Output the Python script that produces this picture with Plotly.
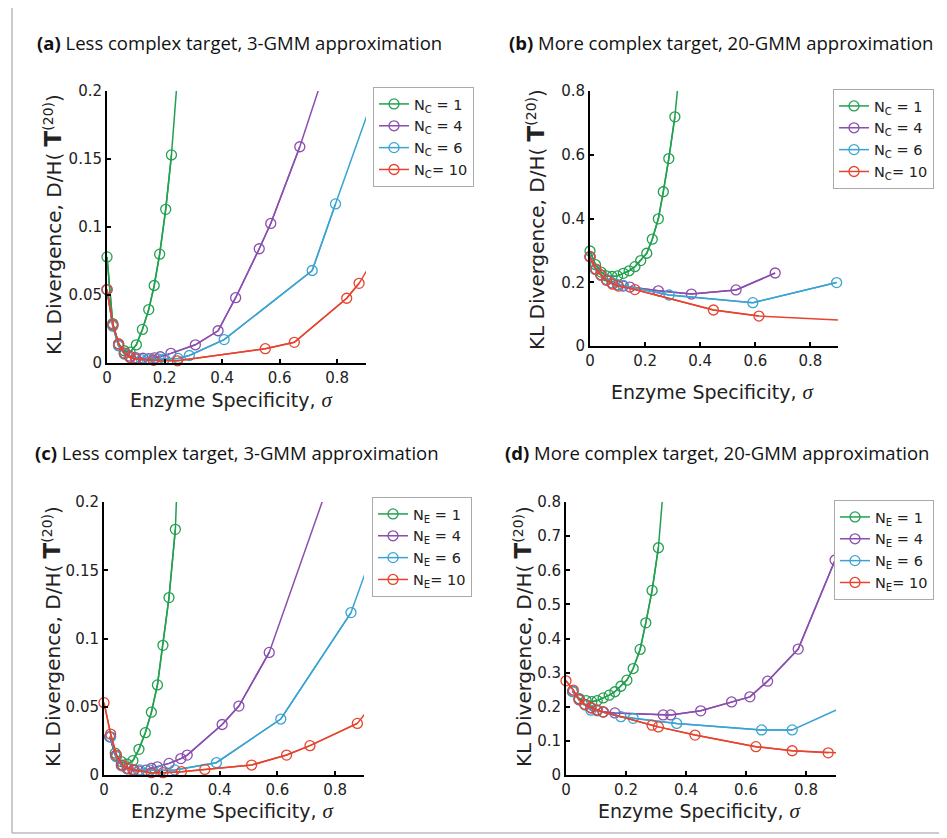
import plotly.graph_objects as go

# ---------------- data ----------------
# panel (a)  N_C, less complex target, 3-GMM
a_green_x = [0, 0.02, 0.04, 0.06, 0.08, 0.102, 0.123, 0.145, 0.164, 0.183, 0.204, 0.224, 0.245]
a_green_y = [0.078, 0.029, 0.014, 0.009, 0.008, 0.0134, 0.0247, 0.0393, 0.057, 0.080, 0.113, 0.153, 0.211]
a_purple_x = [0, 0.02, 0.04, 0.06, 0.08, 0.10, 0.125, 0.145, 0.165, 0.185, 0.222, 0.307, 0.386, 0.447, 0.529, 0.569, 0.670, 0.76]
a_purple_y = [0.054, 0.028, 0.013, 0.007, 0.005, 0.004, 0.0035, 0.0032, 0.0038, 0.0046, 0.0071, 0.0134, 0.0237, 0.048, 0.084, 0.1026, 0.159, 0.217]
a_blue_x = [0, 0.02, 0.04, 0.06, 0.08, 0.10, 0.12, 0.14, 0.16, 0.18, 0.20, 0.247, 0.286, 0.407, 0.713, 0.794, 0.95]
a_blue_y = [0.054, 0.027, 0.0127, 0.0066, 0.004, 0.003, 0.0025, 0.0025, 0.0025, 0.0028, 0.003, 0.0034, 0.0055, 0.0172, 0.068, 0.117, 0.21]
a_red_x = [0, 0.021, 0.041, 0.061, 0.081, 0.10, 0.162, 0.245, 0.55, 0.651, 0.833, 0.876, 0.95]
a_red_y = [0.054, 0.028, 0.014, 0.0073, 0.004, 0.003, 0.002, 0.0016, 0.0105, 0.0152, 0.0476, 0.0586, 0.0845]

# panel (b)  N_C, more complex target, 20-GMM
b_green_x = [0, 0.02, 0.04, 0.06, 0.08, 0.10, 0.121, 0.142, 0.163, 0.184, 0.206, 0.226, 0.248, 0.266, 0.286, 0.308, 0.33]
b_green_y = [0.298, 0.255, 0.232, 0.22, 0.218, 0.22, 0.228, 0.236, 0.249, 0.268, 0.291, 0.335, 0.399, 0.484, 0.588, 0.719, 0.917]
b_purple_x = [0, 0.02, 0.04, 0.06, 0.08, 0.10, 0.12, 0.145, 0.248, 0.368, 0.53, 0.672]
b_purple_y = [0.28, 0.24, 0.222, 0.208, 0.198, 0.192, 0.188, 0.185, 0.173, 0.163, 0.176, 0.229]
b_blue_x = [0, 0.02, 0.04, 0.06, 0.08, 0.10, 0.121, 0.287, 0.591, 0.895]
b_blue_y = [0.28, 0.24, 0.222, 0.208, 0.198, 0.192, 0.19, 0.16, 0.136, 0.199]
b_red_x = [0, 0.022, 0.039, 0.06, 0.082, 0.103, 0.163, 0.448, 0.613, 0.95]
b_red_y = [0.28, 0.241, 0.224, 0.206, 0.194, 0.188, 0.177, 0.113, 0.094, 0.079]

# panel (c)  N_E, less complex target, 3-GMM
c_green_x = [0.02, 0.039, 0.06, 0.08, 0.10, 0.121, 0.143, 0.164, 0.185, 0.204, 0.225, 0.247, 0.268]
c_green_y = [0.028, 0.016, 0.0098, 0.008, 0.0105, 0.0188, 0.031, 0.046, 0.066, 0.095, 0.13, 0.18, 0.30]
c_purple_x = [0.02, 0.04, 0.06, 0.08, 0.10, 0.12, 0.145, 0.164, 0.185, 0.225, 0.266, 0.288, 0.409, 0.467, 0.572, 0.78]
c_purple_y = [0.028, 0.014, 0.007, 0.0045, 0.0035, 0.003, 0.0035, 0.0049, 0.006, 0.0085, 0.012, 0.0146, 0.037, 0.0505, 0.0898, 0.215]
c_blue_x = [0.023, 0.043, 0.064, 0.083, 0.104, 0.124, 0.16, 0.20, 0.245, 0.389, 0.612, 0.855, 0.95]
c_blue_y = [0.028, 0.0134, 0.0066, 0.0045, 0.004, 0.0037, 0.0035, 0.0035, 0.0037, 0.009, 0.041, 0.119, 0.175]
c_red_x = [0, 0.023, 0.043, 0.064, 0.083, 0.104, 0.164, 0.204, 0.268, 0.349, 0.511, 0.632, 0.713, 0.877, 0.95]
c_red_y = [0.053, 0.030, 0.0146, 0.0073, 0.0049, 0.0037, 0.0017, 0.0017, 0.0024, 0.0041, 0.0073, 0.0146, 0.0215, 0.0378, 0.0575]

# panel (d)  N_E, more complex target, 20-GMM
d_green_x = [0.022, 0.044, 0.067, 0.086, 0.104, 0.124, 0.144, 0.163, 0.183, 0.203, 0.224, 0.247, 0.266, 0.287, 0.308, 0.33]
d_green_y = [0.245, 0.224, 0.218, 0.215, 0.218, 0.226, 0.234, 0.244, 0.26, 0.278, 0.312, 0.368, 0.446, 0.541, 0.666, 0.90]
d_purple_x = [0.022, 0.044, 0.063, 0.083, 0.104, 0.124, 0.163, 0.324, 0.349, 0.449, 0.552, 0.613, 0.672, 0.774, 0.897]
d_purple_y = [0.245, 0.222, 0.207, 0.197, 0.19, 0.185, 0.182, 0.176, 0.176, 0.188, 0.214, 0.229, 0.275, 0.369, 0.630]
d_blue_x = [0.024, 0.044, 0.063, 0.083, 0.104, 0.124, 0.183, 0.224, 0.369, 0.652, 0.754, 0.95]
d_blue_y = [0.244, 0.22, 0.205, 0.19, 0.188, 0.184, 0.171, 0.166, 0.151, 0.132, 0.132, 0.21]
d_red_x = [0, 0.024, 0.043, 0.063, 0.083, 0.104, 0.124, 0.287, 0.308, 0.43, 0.633, 0.754, 0.874, 0.99]
d_red_y = [0.276, 0.249, 0.221, 0.207, 0.197, 0.19, 0.185, 0.146, 0.141, 0.117, 0.083, 0.071, 0.065, 0.062]

legend_c = ["N<sub>C</sub> = 1", "N<sub>C</sub> = 4", "N<sub>C</sub> = 6", "N<sub>C</sub>= 10"]
legend_e = ["N<sub>E</sub> = 1", "N<sub>E</sub> = 4", "N<sub>E</sub> = 6", "N<sub>E</sub>= 10"]
titles = [
    "<b>(a)</b> Less complex target, 3-GMM approximation",
    "<b>(b)</b> More complex target, 20-GMM approximation",
    "<b>(c)</b> Less complex target, 3-GMM approximation",
    "<b>(d)</b> More complex target, 20-GMM approximation",
]
x_ticks = [0, 0.2, 0.4, 0.6, 0.8]
x_ticklabels = ["0", "0.2", "0.4", "0.6", "0.8"]
y_ticks_a = [0, 0.05, 0.1, 0.15, 0.2]
y_ticklabels_a = ["0", "0.05", "0.1", "0.15", "0.2"]
y_ticks_b = [0, 0.2, 0.4, 0.6, 0.8]
y_ticklabels_b = ["0", "0.2", "0.4", "0.6", "0.8"]
y_ticks_d = [0, 0.1, 0.2, 0.3, 0.4, 0.5, 0.6, 0.7, 0.8]
y_ticklabels_d = ["0", "0.1", "0.2", "0.3", "0.4", "0.5", "0.6", "0.7", "0.8"]

colors = ["#22a04f", "#8a4fae", "#3ba3d3", "#e6442f"]

# ---------------- layout geometry ----------------
# the page body has an 8px margin, so the figure is 8px smaller and
# all window-pixel positions are shifted by that offset
OFF = 8
W, H = 947 - OFF, 838 - OFF
def px_x(p): return (p - OFF) / W
def px_y(p): return 1 - (p - OFF) / H

panels = [
    dict(series=[(a_green_x, a_green_y), (a_purple_x, a_purple_y), (a_blue_x, a_blue_y), (a_red_x, a_red_y)],
         names=legend_c, xd=(107, 366), yd=(91, 363), ymax=0.2, yt=(y_ticks_a, y_ticklabels_a),
         leg=(373, 87, "left"), title=(35, 42), ytitle=(53, 225), xtitle=(232, 400)),
    dict(series=[(b_green_x, b_green_y), (b_purple_x, b_purple_y), (b_blue_x, b_blue_y), (b_red_x, b_red_y)],
         names=legend_c, xd=(590, 838), yd=(91, 346), ymax=0.8, yt=(y_ticks_b, y_ticklabels_b),
         leg=(934, 89, "right"), title=(507, 42), ytitle=(536, 220), xtitle=(713, 392)),
    dict(series=[(c_green_x, c_green_y), (c_purple_x, c_purple_y), (c_blue_x, c_blue_y), (c_red_x, c_red_y)],
         names=legend_e, xd=(104, 364), yd=(502, 775), ymax=0.2, yt=(y_ticks_a, y_ticklabels_a),
         leg=(372, 497, "left"), title=(33, 452), ytitle=(52, 637), xtitle=(233, 811)),
    dict(series=[(d_green_x, d_green_y), (d_purple_x, d_purple_y), (d_blue_x, d_blue_y), (d_red_x, d_red_y)],
         names=legend_e, xd=(566, 836), yd=(502, 775), ymax=0.8, yt=(y_ticks_d, y_ticklabels_d),
         leg=(934, 500, "right"), title=(503, 452), ytitle=(523, 637), xtitle=(700, 811)),
]

fig = go.Figure()
tick_font = dict(family="DejaVu Sans", size=15, color="#222")
ytitle_txt = ("KL Divergence, D/H( <span style='font-size:23px'><b>T</b></span>"
              "<sup>(20)</sup>)")
xtitle_txt = ("Enzyme Specificity, "
              "<span style='font-family:\"Liberation Serif\"; font-size:21px'><i>σ</i></span>")

annotations = []
for i, p in enumerate(panels):
    k = "" if i == 0 else str(i + 1)
    xa, ya = "x" + k, "y" + k
    legname = "legend" + k
    for j, (xs, ys) in enumerate(p["series"]):
        # full polyline (clipped at the axes)
        fig.add_trace(go.Scatter(x=xs, y=ys, mode="lines", xaxis=xa, yaxis=ya,
                                 line=dict(color=colors[j], width=1.5),
                                 showlegend=False, hoverinfo="skip"))
        # visible points with open circles
        vx = [x for x, y in zip(xs, ys) if x <= 0.9 and y <= p["ymax"]]
        vy = [y for x, y in zip(xs, ys) if x <= 0.9 and y <= p["ymax"]]
        fig.add_trace(go.Scatter(x=vx, y=vy, mode="lines+markers", xaxis=xa, yaxis=ya,
                                 name=p["names"][j], legend=legname,
                                 line=dict(color=colors[j], width=1.5),
                                 marker=dict(symbol="circle-open", size=10,
                                             color=colors[j], line=dict(width=1.3)),
                                 cliponaxis=False))
    common = dict(showline=True, linecolor="black", linewidth=2, ticks="inside",
                  ticklen=4, tickwidth=1.5, tickcolor="black", showgrid=False,
                  zeroline=False, tickfont=tick_font, mirror=False, automargin=False)
    fig.layout["xaxis" + k] = dict(domain=[px_x(p["xd"][0]), px_x(p["xd"][1])],
                                   range=[0, 0.9], anchor=ya, tickvals=x_ticks,
                                   ticktext=x_ticklabels, **common)
    fig.layout["yaxis" + k] = dict(domain=[px_y(p["yd"][1]), px_y(p["yd"][0])],
                                   range=[0, p["ymax"]], anchor=xa, tickvals=p["yt"][0],
                                   ticktext=p["yt"][1], **common)
    fig.layout[legname] = dict(x=px_x(p["leg"][0]), y=px_y(p["leg"][1]),
                               xanchor=p["leg"][2], yanchor="top",
                               bgcolor="white", bordercolor="#aaaaaa", borderwidth=1,
                               font=dict(family="DejaVu Sans", size=14.5, color="#222"),
                               itemwidth=30, tracegroupgap=0)
    annotations.append(dict(text=titles[i], x=px_x(p["title"][0]), y=px_y(p["title"][1]),
                            xref="paper", yref="paper", xanchor="left", yanchor="middle",
                            showarrow=False,
                            font=dict(family="Open Sans", size=18.5, color="#111")))
    annotations.append(dict(text=ytitle_txt, x=px_x(p["ytitle"][0]), y=px_y(p["ytitle"][1]),
                            xref="paper", yref="paper", xanchor="center", yanchor="middle",
                            textangle=-90, showarrow=False,
                            font=dict(family="DejaVu Sans", size=20, color="#222")))
    annotations.append(dict(text=xtitle_txt, x=px_x(p["xtitle"][0]), y=px_y(p["xtitle"][1]),
                            xref="paper", yref="paper", xanchor="center", yanchor="middle",
                            showarrow=False,
                            font=dict(family="DejaVu Sans", size=19, color="#222")))

fig.update_layout(
    width=W, height=H, margin=dict(l=0, r=0, t=0, b=0, autoexpand=False),
    paper_bgcolor="white", plot_bgcolor="white",
    annotations=annotations,
    shapes=[dict(type="rect", xref="paper", yref="paper",
                 x0=px_x(12), x1=px_x(944), y0=px_y(833), y1=1.02,
                 line=dict(color="#999999", width=1))],
)

fig.write_html("out.html")
